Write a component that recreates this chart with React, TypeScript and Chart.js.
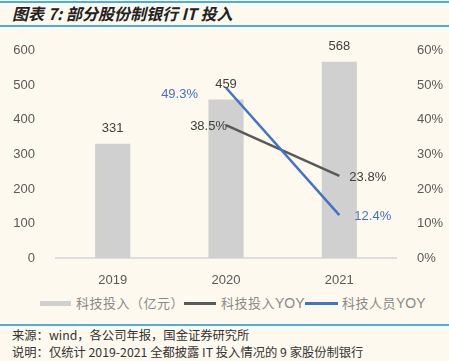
import React, { useEffect, useRef } from "react";
import { Chart, registerables } from "chart.js";

Chart.register(...registerables);

const categories = ["2019", "2020", "2021"];
const itInvest = [331, 459, 568];
const itInvestYoy = [null, 38.5, 23.8];
const staffYoy = [null, 49.3, 12.4];
const leftTicks = [0, 100, 200, 300, 400, 500, 600];
const rightTicks = [0, 10, 20, 30, 40, 50, 60];

const BG = "#FDF9EE";
const BLUE_RULE = "#4BACE6";
const BAR = "#D0D0D0";
const GRAY_LINE = "#595959";
const BLUE_LINE = "#4472C4";
const TICK = "#595959";
const LATIN = "'Liberation Sans', Arial, sans-serif";
const CJK = "'Noto Sans CJK SC', 'Liberation Sans', sans-serif";

const labelPlugin = {
  id: "valueLabels",
  afterDatasetsDraw(chart: any) {
    const ctx = chart.ctx;
    ctx.save();
    ctx.font = `13px ${LATIN}`;
    ctx.textBaseline = "middle";
    const barMeta = chart.getDatasetMeta(0);
    barMeta.data.forEach((el: any, i: number) => {
      ctx.fillStyle = "#404040";
      ctx.textAlign = "center";
      ctx.fillText(String(itInvest[i]), el.x, el.y - 15);
    });
    const gMeta = chart.getDatasetMeta(1);
    gMeta.data.forEach((el: any, i: number) => {
      const v = itInvestYoy[i];
      if (v == null) return;
      ctx.fillStyle = "#404040";
      if (i === 1) {
        ctx.textAlign = "right";
        ctx.fillText(v.toFixed(1) + "%", el.x + 1, el.y + 1);
      } else {
        ctx.textAlign = "left";
        ctx.fillText(v.toFixed(1) + "%", el.x + 10, el.y + 2);
      }
    });
    const bMeta = chart.getDatasetMeta(2);
    bMeta.data.forEach((el: any, i: number) => {
      const v = staffYoy[i];
      if (v == null) return;
      ctx.fillStyle = BLUE_LINE;
      if (i === 1) {
        ctx.textAlign = "right";
        ctx.fillText(v.toFixed(1) + "%", el.x - 28, el.y + 7);
      } else {
        ctx.textAlign = "left";
        ctx.fillText(v.toFixed(1) + "%", el.x + 15, el.y + 1);
      }
    });
    ctx.restore();
  },
};

export default function App() {
  const canvasRef = useRef<HTMLCanvasElement>(null);

  useEffect(() => {
    document.body.style.margin = "0";
    document.body.style.background = BG;
    const chart = new Chart(canvasRef.current!, {
      type: "bar",
      data: {
        labels: categories,
        datasets: [
          {
            type: "bar",
            data: itInvest,
            backgroundColor: BAR,
            yAxisID: "y",
            barPercentage: 0.31,
            categoryPercentage: 1,
            order: 3,
          },
          {
            type: "line",
            data: itInvestYoy,
            borderColor: GRAY_LINE,
            borderWidth: 2.5,
            pointRadius: 0,
            tension: 0,
            yAxisID: "y1",
            order: 2,
          },
          {
            type: "line",
            data: staffYoy,
            borderColor: BLUE_LINE,
            borderWidth: 2.5,
            pointRadius: 0,
            tension: 0,
            yAxisID: "y1",
            order: 1,
          },
        ] as any,
      },
      options: {
        animation: false,
        responsive: false,
        maintainAspectRatio: false,
        layout: { padding: { top: 16, left: 0, right: 0, bottom: 0 } },
        plugins: { legend: { display: false }, tooltip: { enabled: false } },
        scales: {
          x: {
            grid: { display: false },
            border: { display: true, color: "#DEDEDE", width: 2 },
            ticks: { color: TICK, font: { size: 13, family: LATIN }, padding: 7 },
            afterFit(scale: any) {
              scale.height = 32;
            },
          },
          y: {
            position: "left",
            min: leftTicks[0],
            max: leftTicks[leftTicks.length - 1],
            afterBuildTicks(scale: any) {
              scale.ticks = leftTicks.map((v) => ({ value: v }));
            },
            grid: { display: false },
            border: { display: false },
            ticks: { color: TICK, font: { size: 13, family: LATIN }, padding: 13 },
            afterFit(scale: any) {
              scale.width = 56;
            },
          },
          y1: {
            position: "right",
            min: rightTicks[0],
            max: rightTicks[rightTicks.length - 1],
            afterBuildTicks(scale: any) {
              scale.ticks = rightTicks.map((v) => ({ value: v }));
            },
            grid: { display: false },
            border: { display: false },
            ticks: {
              color: TICK,
              font: { size: 13, family: LATIN },
              padding: 13,
              callback: (v: any) => `${v}%`,
            },
            afterFit(scale: any) {
              scale.width = 53;
            },
          },
        },
      } as any,
      plugins: [labelPlugin],
    });
    return () => chart.destroy();
  }, []);

  const legendText: React.CSSProperties = {
    position: "absolute",
    top: 294,
    fontFamily: CJK,
    fontSize: 13,
    lineHeight: "18px",
    color: "#8A8A8A",
    whiteSpace: "nowrap",
    letterSpacing: "0.5px",
  };

  const footer: React.CSSProperties = {
    position: "absolute",
    left: 12,
    fontFamily: CJK,
    fontSize: 12.3,
    lineHeight: "17px",
    color: "#333",
    whiteSpace: "nowrap",
  };

  return (
    <div
      style={{
        position: "absolute",
        left: 0,
        top: 0,
        width: 449,
        height: 361,
        background: BG,
        overflow: "hidden",
      }}
    >
      <div style={{ position: "absolute", left: 0, top: 1, width: 449, height: 2, background: BLUE_RULE }} />
      <div
        style={{
          position: "absolute",
          left: 12,
          top: 3,
          fontFamily: CJK,
          fontSize: 16,
          lineHeight: "21px",
          fontWeight: 700,
          fontStyle: "italic",
          color: "#222",
          whiteSpace: "nowrap",
        }}
      >
        图表 7: 部分股份制银行 IT 投入
      </div>
      <div style={{ position: "absolute", left: 0, top: 25, width: 449, height: 2, background: BLUE_RULE }} />
      <canvas
        ref={canvasRef}
        width={449}
        height={260}
        style={{ position: "absolute", left: 0, top: 30, width: 449, height: 260 }}
      />
      <div style={{ position: "absolute", left: 40, top: 301, width: 31, height: 5, background: BAR }} />
      <div style={{ ...legendText, left: 76 }}>科技投入（亿元）</div>
      <div style={{ position: "absolute", left: 184, top: 302, width: 32, height: 3, background: GRAY_LINE }} />
      <div style={{ ...legendText, left: 221 }}>
        科技投入<span style={{ fontFamily: LATIN, fontSize: 14, letterSpacing: 0 }}>YOY</span>
      </div>
      <div style={{ position: "absolute", left: 305, top: 302, width: 33, height: 3, background: BLUE_LINE }} />
      <div style={{ ...legendText, left: 342 }}>
        科技人员<span style={{ fontFamily: LATIN, fontSize: 14, letterSpacing: 0 }}>YOY</span>
      </div>
      <div style={{ position: "absolute", left: 0, top: 324, width: 449, height: 2, background: BLUE_RULE }} />
      <div style={{ ...footer, top: 327 }}>来源：wind，各公司年报，国金证券研究所</div>
      <div style={{ ...footer, top: 344 }}>说明：仅统计 2019-2021 全都披露 IT 投入情况的 9 家股份制银行</div>
    </div>
  );
}
